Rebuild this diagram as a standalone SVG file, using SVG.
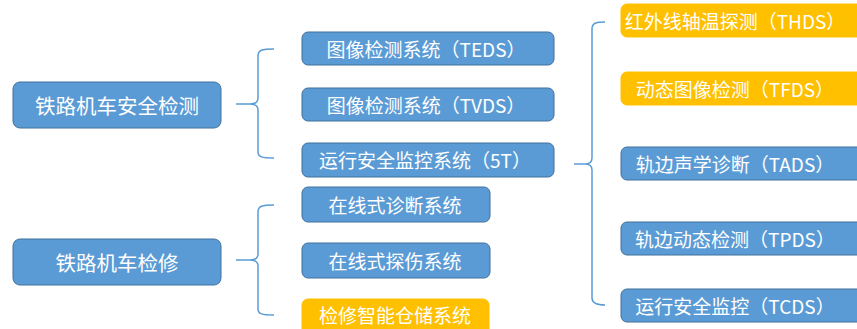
<svg xmlns="http://www.w3.org/2000/svg" width="857" height="329" viewBox="0 0 857 329">
<style>
.b{fill:#5B9BD5;stroke:#41719C;stroke-width:1}
.y{fill:#FFC000;stroke:#FFC000;stroke-width:1}
.t{fill:#FFFFFF;font-family:"Noto Sans CJK SC","Liberation Sans",sans-serif;text-anchor:middle;dominant-baseline:central}
.l{font-size:20.5px}
.m{font-size:19px}
.r{font-size:19px}
.c{fill:none;stroke:#5B9BD5;stroke-width:1.5}
</style>
<rect width="857" height="329" fill="#FFFFFF"/>
<g id="connectors">
<path class="c" d="M274,49 C262,49 258,50 258,56 L258,98 C258,102 256,104 250,104 L236,104 M250,104 C256,104 258,106 258,110 L258,152 C258,157 262,158 274,158"/>
<path class="c" d="M274,205 C262,205 258,206 258,212 L258,254 C258,258 256,260 250,260 L236,260 M250,260 C256,260 258,262 258,266 L258,309 C258,314 262,315 274,315"/>
<path class="c" d="M605,22 C596,22 592,23 592,29 L592,158 C592,162 590,164 585,164 L574,164 M585,164 C590,164 592,166 592,170 L592,298 C592,303 596,305 605,305"/>
</g>
<g id="n1"><rect class="b" x="13" y="82" width="208" height="46" rx="7"/><text class="t l" x="117" y="104.5">铁路机车安全检测</text></g>
<g id="n2"><rect class="b" x="13" y="239" width="208" height="46" rx="7"/><text class="t l" x="117" y="261.5">铁路机车检修</text></g>
<g id="m1"><rect class="b" x="302" y="32" width="252" height="33" rx="6"/><text class="t m" x="426" y="48">图像检测系统（TEDS）</text></g>
<g id="m2"><rect class="b" x="302" y="88" width="252" height="33" rx="6"/><text class="t m" x="426" y="104">图像检测系统（TVDS）</text></g>
<g id="m3"><rect class="b" x="302" y="143" width="252" height="34" rx="6"/><text class="t m" x="425" y="159.5">运行安全监控系统（5T）</text></g>
<g id="m4"><rect class="b" x="302" y="187" width="188" height="35" rx="6"/><text class="t m" x="395" y="204">在线式诊断系统</text></g>
<g id="m5"><rect class="b" x="302" y="243" width="188" height="35" rx="6"/><text class="t m" x="395" y="260">在线式探伤系统</text></g>
<g id="m6"><rect class="y" x="302" y="299" width="187" height="40" rx="6"/><text class="t m" x="395" y="314.5">检修智能仓储系统</text></g>
<g id="r1"><rect class="y" x="621" y="4" width="250" height="33" rx="6"/><text class="t r" x="735" y="20">红外线轴温探测（THDS）</text></g>
<g id="r2"><rect class="y" x="621" y="72" width="250" height="33" rx="6"/><text class="t r" x="735" y="88">动态图像检测（TFDS）</text></g>
<g id="r3"><rect class="b" x="621" y="147" width="250" height="33" rx="6"/><text class="t r" x="735" y="163">轨边声学诊断（TADS）</text></g>
<g id="r4"><rect class="b" x="621" y="222" width="250" height="33" rx="6"/><text class="t r" x="735" y="238">轨边动态检测（TPDS）</text></g>
<g id="r5"><rect class="b" x="621" y="289" width="250" height="33" rx="6"/><text class="t r" x="735" y="305">运行安全监控（TCDS）</text></g>
</svg>
